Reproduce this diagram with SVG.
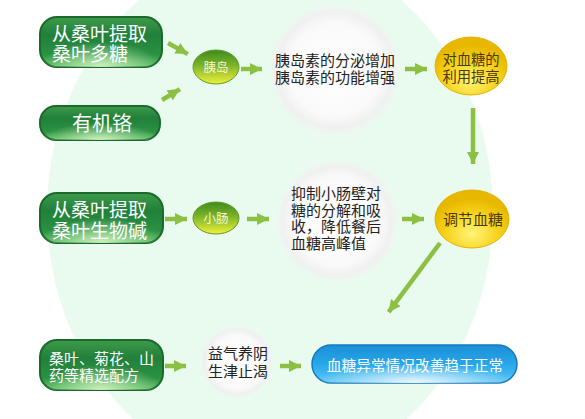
<svg xmlns="http://www.w3.org/2000/svg" width="585" height="419" viewBox="0 0 585 419">
<defs>
<style>
.cn{font-family:"Liberation Serif","Noto Sans CJK SC",sans-serif;}
.wt{fill:#ffffff;}
.dk{fill:#222222;}
.yt{fill:#4a3a05;}
.arr{stroke:#8cc043;stroke-width:4.5;fill:none;marker-end:url(#ah);}
</style>
<marker id="ah" viewBox="0 0 10 10" refX="10" refY="5" markerWidth="12" markerHeight="12" markerUnits="userSpaceOnUse" orient="auto">
<path d="M0,0 L10,5 L0,10 z" fill="#8cc043"/>
</marker>
<linearGradient id="gbox" x1="0" y1="0" x2="0" y2="1">
<stop offset="0" stop-color="#3f9a4a"/>
<stop offset="0.35" stop-color="#21803a"/>
<stop offset="0.75" stop-color="#2a9142"/>
<stop offset="1" stop-color="#5cbf63"/>
</linearGradient>
<radialGradient id="gglow" cx="0.5" cy="1" r="0.5" fx="0.5" fy="1">
<stop offset="0" stop-color="#d9f7c8" stop-opacity="0.9"/>
<stop offset="1" stop-color="#d9f7c8" stop-opacity="0"/>
</radialGradient>
<linearGradient id="gsmall" x1="0" y1="0" x2="0" y2="1">
<stop offset="0" stop-color="#3f8a1e"/>
<stop offset="0.45" stop-color="#7cb42a"/>
<stop offset="1" stop-color="#f0f03c"/>
</linearGradient>
<radialGradient id="gyel" cx="0.5" cy="0.75" r="0.6">
<stop offset="0" stop-color="#fff47a"/>
<stop offset="0.6" stop-color="#f7d21a"/>
<stop offset="1" stop-color="#e8b800"/>
</radialGradient>
<linearGradient id="gblue" x1="0" y1="0" x2="0" y2="1">
<stop offset="0" stop-color="#1c8fd6"/>
<stop offset="0.5" stop-color="#27a6ea"/>
<stop offset="1" stop-color="#5cc8f5"/>
</linearGradient>
<radialGradient id="gbglow" cx="0.5" cy="1" r="0.5">
<stop offset="0" stop-color="#ffffff" stop-opacity="0.9"/>
<stop offset="1" stop-color="#ffffff" stop-opacity="0"/>
</radialGradient>
<radialGradient id="ggray" cx="0.5" cy="0.5" r="0.5">
<stop offset="0" stop-color="#ffffff"/>
<stop offset="0.7" stop-color="#fafafa"/>
<stop offset="0.88" stop-color="#f0f0f0"/>
<stop offset="1" stop-color="#f2f2f2" stop-opacity="0"/>
</radialGradient>
</defs>
<rect width="585" height="419" fill="#ffffff"/>
<ellipse cx="270" cy="212" rx="223" ry="262" fill="#e9fbef"/>

<g id="bg-circles">
<circle cx="335" cy="70" r="66" fill="url(#ggray)"/>
<circle cx="337" cy="221" r="62" fill="url(#ggray)"/>
<circle cx="237" cy="362" r="37" fill="url(#ggray)"/>
</g>

<g id="connectors">
<path class="arr" d="M168,43 L187.8,54.1"/>
<path class="arr" d="M162,100 L179.9,89.1"/>
<path class="arr" d="M241,69 L262,69"/>
<path class="arr" d="M405,69 L427,69"/>
<path class="arr" d="M473,108 L473,164"/>
<path class="arr" d="M165,219 L187,219"/>
<path class="arr" d="M247,219 L269,219"/>
<path class="arr" d="M402,219 L424,219"/>
<path class="arr" d="M440,243 L388.6,312.2"/>
<path class="arr" d="M165,366 L186,366"/>
<path class="arr" d="M280,366 L301,366"/>
</g>

<g id="n-polysaccharide">
<rect x="40" y="17" width="122" height="50" rx="17" fill="url(#gbox)" stroke="#1a6a2c" stroke-width="2"/>
<rect x="40" y="17" width="122" height="50" rx="17" fill="url(#gglow)"/>
<text class="cn wt" font-size="19"><tspan x="52" y="40.5">从桑叶提取</tspan><tspan x="52" y="61">桑叶多糖</tspan></text>
</g>

<g id="n-chromium">
<rect x="40" y="106" width="120" height="34" rx="16" fill="url(#gbox)" stroke="#1a6a2c" stroke-width="2"/>
<rect x="40" y="106" width="120" height="34" rx="16" fill="url(#gglow)"/>
<text class="cn wt" x="102" y="130.5" font-size="20" text-anchor="middle">有机铬</text>
</g>

<g id="n-alkaloid">
<rect x="40" y="193" width="123" height="50" rx="17" fill="url(#gbox)" stroke="#1a6a2c" stroke-width="2"/>
<rect x="40" y="193" width="123" height="50" rx="17" fill="url(#gglow)"/>
<text class="cn wt" font-size="19"><tspan x="52" y="216.5">从桑叶提取</tspan><tspan x="52" y="237.5">桑叶生物碱</tspan></text>
</g>

<g id="n-formula">
<rect x="40" y="340" width="123" height="50" rx="17" fill="url(#gbox)" stroke="#1a6a2c" stroke-width="2"/>
<rect x="40" y="340" width="123" height="50" rx="17" fill="url(#gglow)"/>
<text class="cn wt" font-size="15"><tspan x="49" y="364">桑叶、菊花、山</tspan><tspan x="49" y="380.7">药等精选配方</tspan></text>
</g>

<g id="n-pancreas">
<ellipse cx="216" cy="67" rx="23" ry="17" fill="url(#gsmall)" stroke="#5f9a2a" stroke-width="1"/>
<text class="cn" x="216" y="71.5" font-size="12.5" fill="#f4f8d8" text-anchor="middle">胰岛</text>
</g>

<g id="n-intestine">
<ellipse cx="216" cy="218" rx="23" ry="16" fill="url(#gsmall)" stroke="#5f9a2a" stroke-width="1"/>
<text class="cn" x="216" y="222.5" font-size="12.5" fill="#f4f8d8" text-anchor="middle">小肠</text>
</g>

<g id="n-insulin">
<text class="cn dk" font-size="15"><tspan x="275" y="65.5">胰岛素的分泌增加</tspan><tspan x="275" y="82.5">胰岛素的功能增强</tspan></text>
</g>

<g id="n-utilization">
<ellipse cx="471" cy="66" rx="36" ry="29" fill="url(#gyel)" stroke="#e2b400" stroke-width="1"/>
<text class="cn yt" font-size="14.3" text-anchor="middle"><tspan x="471" y="64.5">对血糖的</tspan><tspan x="471" y="81.5">利用提高</tspan></text>
</g>

<g id="n-inhibit">
<text class="cn dk" font-size="15"><tspan x="291" y="199">抑制小肠壁对</tspan><tspan x="291" y="215.7">糖的分解和吸</tspan><tspan x="291" y="232.4">收，降低餐后</tspan><tspan x="291" y="249">血糖高峰值</tspan></text>
</g>

<g id="n-regulate">
<ellipse cx="472" cy="219" rx="37" ry="29" fill="url(#gyel)" stroke="#e2b400" stroke-width="1"/>
<text class="cn yt" x="473" y="224.5" font-size="15" text-anchor="middle">调节血糖</text>
</g>

<g id="n-qi">
<text class="cn dk" font-size="15"><tspan x="208" y="358.5">益气养阴</tspan><tspan x="208" y="376.5">生津止渴</tspan></text>
</g>

<g id="n-normal">
<rect x="312" y="345" width="205" height="38" rx="19" fill="url(#gblue)" stroke="#1479c0" stroke-width="1.5"/>
<rect x="312" y="345" width="205" height="38" rx="19" fill="url(#gbglow)"/>
<text class="cn wt" x="415" y="370.5" font-size="14.7" text-anchor="middle">血糖异常情况改善趋于正常</text>
</g>
</svg>
